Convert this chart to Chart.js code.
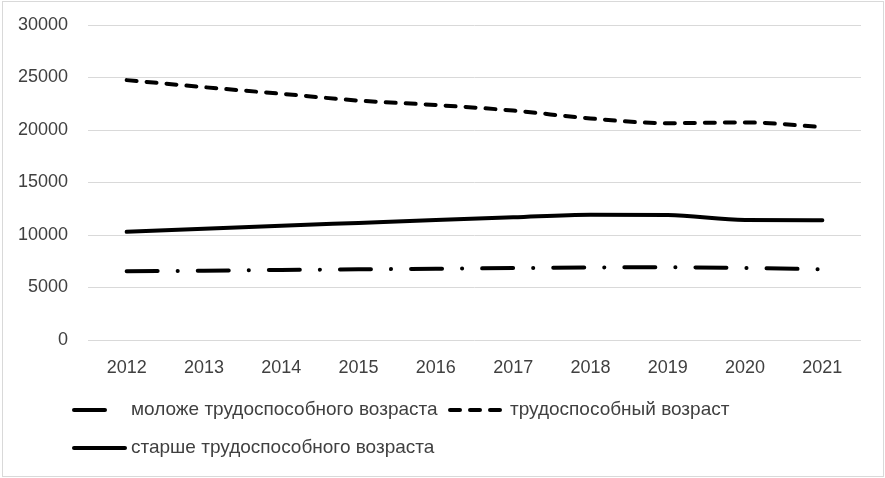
<!DOCTYPE html>
<html>
<head>
<meta charset="utf-8">
<script src="https://cdn.jsdelivr.net/npm/chart.js@4/dist/chart.umd.min.js"></script>
<style>
html,body{margin:0;padding:0;background:#fff;}
#wrap{width:885px;height:478px;position:relative;}
</style>
</head>
<body>
<div id="wrap"><canvas id="c" width="885" height="478"></canvas></div>
<script>
const years = ['2012','2013','2014','2015','2016','2017','2018','2019','2020','2021'];
const younger = [6550, 6590, 6670, 6730, 6780, 6850, 6910, 6930, 6850, 6740];
const working = [24750, 24080, 23450, 22800, 22380, 21850, 21100, 20650, 20720, 20280];
const older = [10300, 10600, 10880, 11150, 11420, 11680, 11930, 11900, 11420, 11400];
const seriesNames = ['моложе трудоспособного возраста', 'трудоспособный возраст', 'старше трудоспособного возраста'];
const yTicks = [0, 5000, 10000, 15000, 20000, 25000, 30000];

const FONT = 'Liberation Sans';
const TXT = '#404040';

const legendPlugin = {
  id: 'customLegend',
  afterDraw(chart) {
    const ctx = chart.ctx;
    ctx.save();
    ctx.strokeStyle = '#d9d9d9';
    ctx.lineWidth = 1;
    ctx.setLineDash([]);
    ctx.strokeRect(2.5, 1.5, 881, 475);
    const ds = chart.data.datasets;
    const items = [
      {ds: ds[0], x1: 74, x2: 108, y: 410, tx: 131},
      {ds: ds[1], x1: 450, x2: 500, y: 410, tx: 510},
      {ds: ds[2], x1: 74, x2: 125, y: 448, tx: 131}
    ];
    items.forEach(it => {
      ctx.strokeStyle = it.ds.borderColor;
      ctx.lineWidth = it.ds.borderWidth;
      ctx.lineCap = 'round';
      ctx.setLineDash(it.ds.borderDash || []);
      ctx.beginPath();
      ctx.moveTo(it.x1, it.y);
      ctx.lineTo(it.x2, it.y);
      ctx.stroke();
      ctx.setLineDash([]);
      ctx.fillStyle = TXT;
      ctx.font = '19px "' + FONT + '"';
      ctx.textBaseline = 'middle';
      ctx.textAlign = 'left';
      ctx.fillText(it.ds.label, it.tx, it.y);
    });
    ctx.restore();
  }
};

new Chart(document.getElementById('c'), {
  type: 'line',
  data: {
    labels: years,
    datasets: [
      {label: seriesNames[0], data: younger, borderColor: '#000', borderWidth: 4, borderDash: [31, 20, 0.1, 20], borderCapStyle: 'round', pointRadius: 0, cubicInterpolationMode: 'monotone', fill: false},
      {label: seriesNames[1], data: working, borderColor: '#000', borderWidth: 4, borderDash: [10, 10], borderCapStyle: 'round', pointRadius: 0, cubicInterpolationMode: 'monotone', fill: false},
      {label: seriesNames[2], data: older, borderColor: '#000', borderWidth: 4, borderDash: [], borderCapStyle: 'round', pointRadius: 0, cubicInterpolationMode: 'monotone', fill: false}
    ]
  },
  options: {
    responsive: false,
    animation: false,
    layout: {padding: {top: 25, right: 24, left: 0, bottom: 0}},
    plugins: {legend: {display: false}, tooltip: {enabled: false}},
    scales: {
      x: {
        offset: true,
        grid: {display: false, drawTicks: false},
        border: {display: false},
        ticks: {color: TXT, font: {family: FONT, size: 18}, padding: 17, maxRotation: 0},
        afterFit(s) { s.height = 138; s.paddingLeft = 0; s.paddingRight = 0; }
      },
      y: {
        min: 0, max: 30000,
        grid: {color: '#d9d9d9', lineWidth: 1, drawTicks: false},
        border: {display: false},
        afterBuildTicks(s) { s.ticks = yTicks.map(v => ({value: v})); },
        ticks: {color: TXT, font: {family: FONT, size: 18}, padding: 20, callback: v => String(v)},
        afterFit(s) { s.width = 88; s.paddingTop = 0; s.paddingBottom = 0; }
      }
    }
  },
  plugins: [legendPlugin]
});
</script>
</body>
</html>
